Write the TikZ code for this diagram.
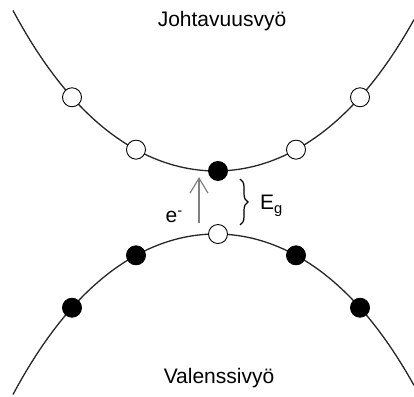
\documentclass[tikz,border=0pt]{standalone}
\usepackage{fontspec}
\setmainfont{Liberation Sans}
\usetikzlibrary{arrows.meta, positioning, decorations.pathreplacing}

\begin{document}
\begin{tikzpicture}[
    x=1pt, y=1pt,
    every node/.style={font=\fontsize{21}{25}\selectfont},
    declare function={band(\t)=118*(0.5*(exp(\t/135)+exp(-\t/135))-1);},
    bandline/.style={line width=1.3pt, black!85},
    hole/.style={circle, draw, line width=0.9pt, fill=white, minimum size=19pt, inner sep=0pt},
    elec/.style={circle, draw, line width=0.9pt, fill=black, minimum size=19pt, inner sep=0pt},
    arrow/.style={-{Straight Barb[length=15pt, width=18pt, line width=1.2pt]}, line width=1.4pt, gray},
    label/.style={inner sep=0pt}
]
\useasboundingbox (0,0) rectangle (414,396);

% ============ CONDUCTION BAND (TOP) ============
\draw[bandline] plot[domain=-203:198, samples=90] ({216+\x},{225+band(\x)});
\node[label, anchor=base] (cbname) at (222,369) {Johtavuusvyö};

\node[hole] (cb1) at ({216-144},{225+band(-144)}) {};
\node[hole] (cb2) at ({216-80},{225+band(-80)}) {};
\node[elec] (cb3) at ({218},{225+band(2)}) {};
\node[hole] (cb4) at ({216+80},{225+band(80)}) {};
\node[hole] (cb5) at ({216+144},{225+band(144)}) {};

% ============ VALENCE BAND (BOTTOM) ============
\draw[bandline] plot[domain=-203:198, samples=90] ({216+\x},{162-band(\x)});
\node[label, anchor=base] (vbname) at (219,13) {Valenssivyö};

\node[elec] (vb1) at ({216-144},{162-band(-144)}) {};
\node[elec] (vb2) at ({216-80},{162-band(-80)}) {};
\node[hole] (vb3) at ({218},{162-band(2)}) {};
\node[elec] (vb4) at ({216+80},{162-band(80)}) {};
\node[elec] (vb5) at ({216+144},{162-band(144)}) {};

% ============ EXCITATION AND GAP ============
\coordinate (jumpfrom) at (199,173);
\coordinate (jumpto) at (199,219);
\draw[arrow] (jumpfrom) -- (jumpto);
\node[label, anchor=base east] (elabel) at (183,173) {e\textsuperscript{-}};

\coordinate (gaptop) at (240,217);
\coordinate (gapbot) at (240,171);
\draw[decorate, decoration={brace, amplitude=8pt}, line width=1.2pt] (gaptop) -- (gapbot);
\node[label, anchor=base west] (eglabel) at (260,186) {E\textsubscript{g}};

\end{tikzpicture}
\end{document}
